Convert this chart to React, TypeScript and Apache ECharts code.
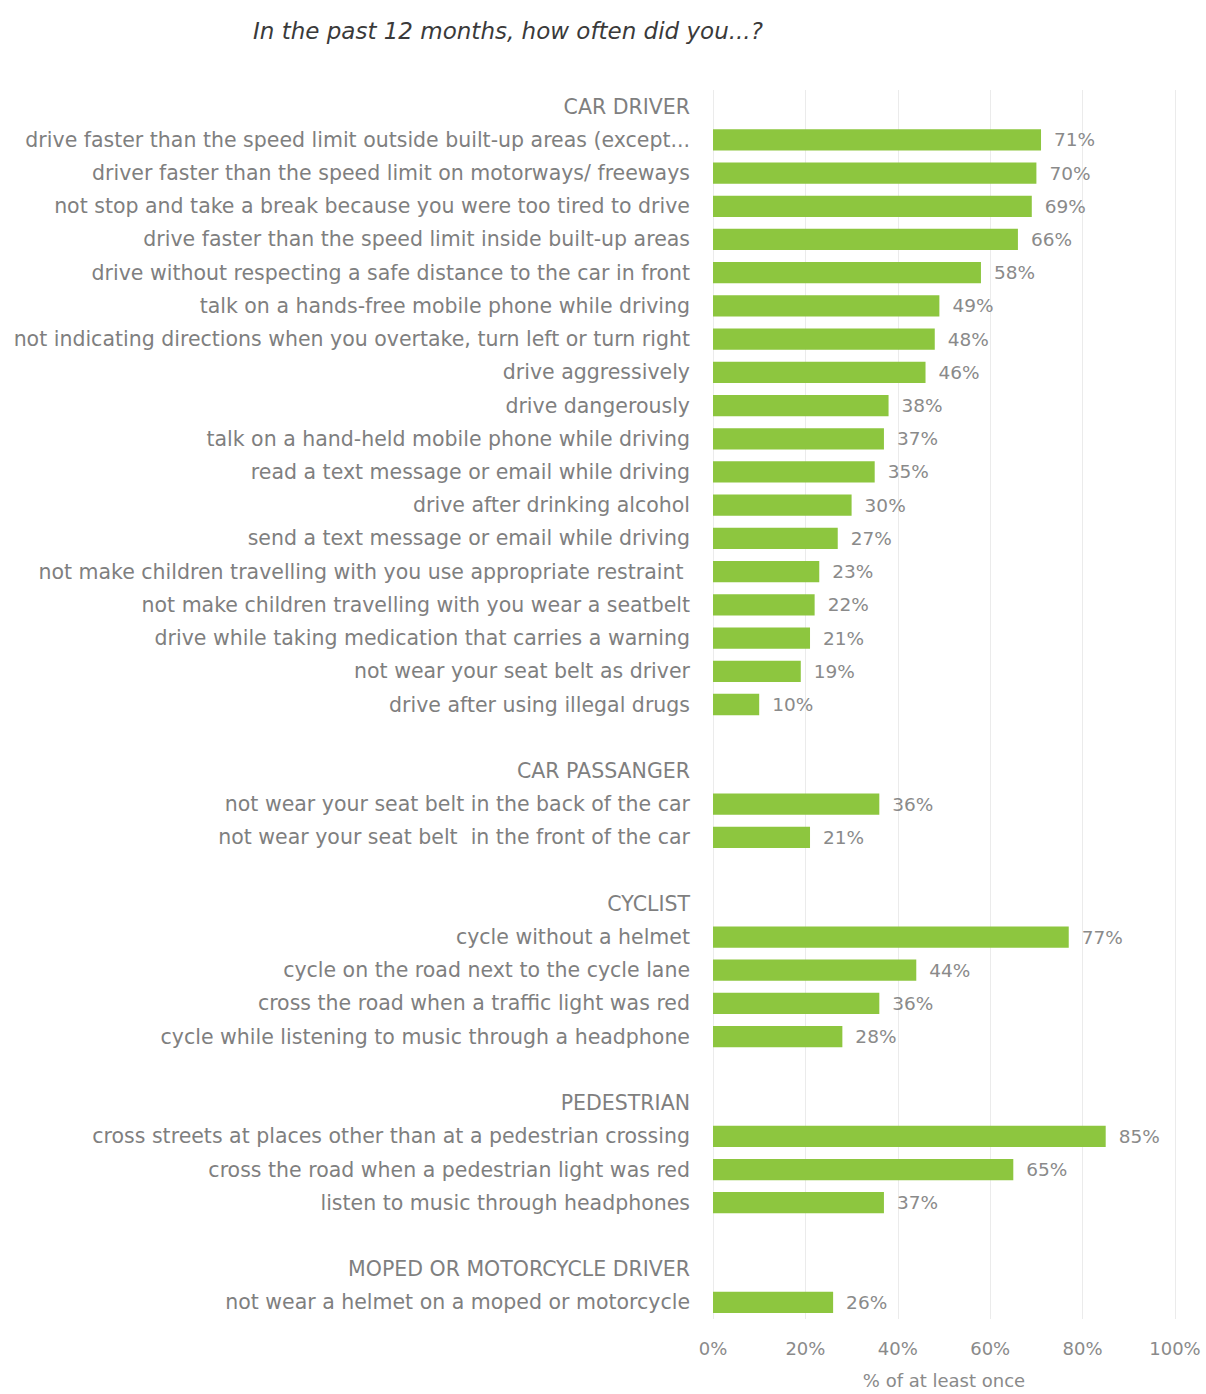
import React, { useEffect, useRef } from "react";
import * as echarts from "echarts";

const categories: string[] = [
  "CAR DRIVER",
  "drive faster than the speed limit outside built-up areas (except...",
  "driver faster than the speed limit on motorways/ freeways",
  "not stop and take a break because you were too tired to drive",
  "drive faster than the speed limit inside built-up areas",
  "drive without respecting a safe distance to the car in front",
  "talk on a hands-free mobile phone while driving",
  "not indicating directions when you overtake, turn left or turn right",
  "drive aggressively",
  "drive dangerously",
  "talk on a hand-held mobile phone while driving",
  "read a text message or email while driving",
  "drive after drinking alcohol",
  "send a text message or email while driving",
  "not make children travelling with you use appropriate restraint ",
  "not make children travelling with you wear a seatbelt",
  "drive while taking medication that carries a warning",
  "not wear your seat belt as driver",
  "drive after using illegal drugs",
  " ",
  "CAR PASSANGER",
  "not wear your seat belt in the back of the car",
  "not wear your seat belt  in the front of the car",
  "  ",
  "CYCLIST",
  "cycle without a helmet",
  "cycle on the road next to the cycle lane",
  "cross the road when a traffic light was red",
  "cycle while listening to music through a headphone",
  "   ",
  "PEDESTRIAN",
  "cross streets at places other than at a pedestrian crossing",
  "cross the road when a pedestrian light was red",
  "listen to music through headphones",
  "    ",
  "MOPED OR MOTORCYCLE DRIVER",
  "not wear a helmet on a moped or motorcycle",
];

const values: (number | null)[] = [
  null, 71, 70, 69, 66, 58, 49, 48, 46, 38, 37, 35, 30, 27, 23, 22, 21, 19, 10,
  null,
  null, 36, 21,
  null,
  null, 77, 44, 36, 28,
  null,
  null, 85, 65, 37,
  null,
  null, 26,
];

const tickLabels: number[] = [0, 20, 40, 60, 80, 100];
const titleText = "In the past 12 months, how often did you...?";
const axisTitle = "% of at least once";

const FONT = "'DejaVu Sans', sans-serif";

export default function App() {
  const ref = useRef<HTMLDivElement>(null);
  useEffect(() => {
    if (!ref.current) return;
    const chart = echarts.init(ref.current, null, { renderer: "svg" });
    chart.setOption({
      animation: false,
      backgroundColor: "#ffffff",
      title: {
        text: titleText,
        left: 248,
        top: 14,
        textStyle: {
          fontFamily: FONT,
          fontStyle: "italic",
          fontWeight: "normal",
          fontSize: 23,
          color: "#3a3a3a",
        },
      },
      grid: { left: 713, right: 31, top: 90, bottom: 68, containLabel: false },
      xAxis: {
        type: "value",
        min: tickLabels[0],
        max: tickLabels[tickLabels.length - 1],
        interval: 20,
        name: axisTitle,
        nameLocation: "middle",
        nameGap: 52,
        nameTextStyle: { fontFamily: FONT, fontSize: 18, color: "#8a8a8a" },
        axisLine: { show: false },
        axisTick: { show: false },
        axisLabel: {
          formatter: "{value}%",
          fontFamily: FONT,
          fontSize: 18,
          color: "#8a8a8a",
          margin: 20,
        },
        splitLine: { show: true, lineStyle: { color: "#ebebeb", width: 1 } },
      },
      yAxis: {
        type: "category",
        data: categories,
        inverse: true,
        axisLine: { show: false },
        axisTick: { show: false },
        axisLabel: {
          fontFamily: FONT,
          fontSize: 20.5,
          color: "#7f7f7f",
          margin: 23,
          interval: 0,
        },
      },
      series: [
        {
          type: "bar",
          data: values,
          barCategoryGap: "36%",
          itemStyle: { color: "#8dc63f" },
          label: {
            show: true,
            position: "right",
            distance: 13,
            formatter: (p: any) => (p.value == null ? "" : p.value + "%"),
            fontFamily: FONT,
            fontSize: 18.5,
            color: "#8a8a8a",
          },
        },
      ],
    });
    return () => chart.dispose();
  }, []);
  return (
    <div
      ref={ref}
      style={{ position: "fixed", left: 0, top: 0, width: 1206, height: 1394 }}
    />
  );
}
